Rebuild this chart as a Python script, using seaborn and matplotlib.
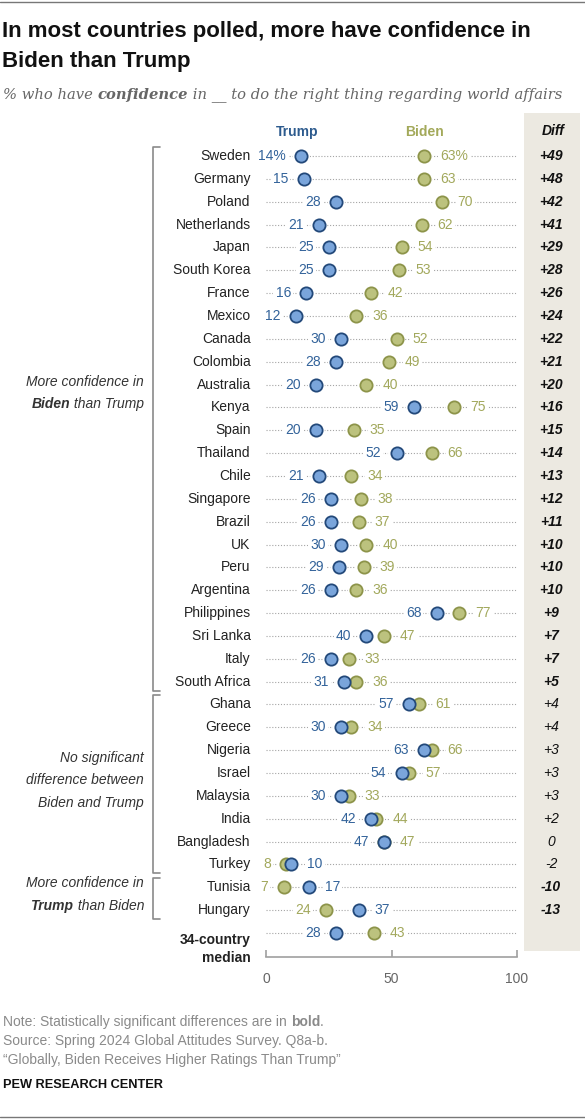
import matplotlib
matplotlib.use("Agg")
import matplotlib.pyplot as plt
import seaborn as sns
import pandas as pd

# data
countries = ["Sweden", "Germany", "Poland", "Netherlands", "Japan", "South Korea",
             "France", "Mexico", "Canada", "Colombia", "Australia", "Kenya", "Spain",
             "Thailand", "Chile", "Singapore", "Brazil", "UK", "Peru", "Argentina",
             "Philippines", "Sri Lanka", "Italy", "South Africa",
             "Ghana", "Greece", "Nigeria", "Israel", "Malaysia", "India", "Bangladesh",
             "Turkey", "Tunisia", "Hungary", "34-country\nmedian"]
trump = [14, 15, 28, 21, 25, 25, 16, 12, 30, 28, 20, 59, 20, 52, 21, 26, 26, 30, 29, 26,
         68, 40, 26, 31, 57, 30, 63, 54, 30, 42, 47, 10, 17, 37, 28]
biden = [63, 63, 70, 62, 54, 53, 42, 36, 52, 49, 40, 75, 35, 66, 34, 38, 37, 40, 39, 36,
         77, 47, 33, 36, 61, 34, 66, 57, 33, 44, 47, 8, 7, 24, 43]
diff_labels = ["+49", "+48", "+42", "+41", "+29", "+28", "+26", "+24", "+22", "+21", "+20",
               "+16", "+15", "+14", "+13", "+12", "+11", "+10", "+10", "+10", "+9", "+7",
               "+7", "+5", "+4", "+4", "+3", "+3", "+3", "+2", "0", "-2", "-10", "-13", ""]
significant = [True] * 24 + [False] * 8 + [True] * 2 + [False]

groups = [
    (0, 23, ["More confidence in", ("Biden", " than Trump")]),
    (24, 31, ["No significant", "difference between", "Biden and Trump"]),
    (32, 33, ["More confidence in", ("Trump", " than Biden")]),
]

df = pd.DataFrame({"country": countries, "Trump": trump, "Biden": biden})
df["row"] = range(len(df))

TRUMP_FILL, TRUMP_EDGE, TRUMP_TXT = "#7aa5db", "#23497a", "#33639a"
BIDEN_FILL, BIDEN_EDGE, BIDEN_TXT = "#bcc27e", "#8d944a", "#a2a85c"

sns.set_theme(style="white")
plt.rcParams["font.family"] = ["Liberation Sans", "DejaVu Sans"]

W, H = 585, 1120
fig = plt.figure(figsize=(W / 100, H / 100), dpi=100)

# overlay axes in pixel coordinates for the furniture
pax = fig.add_axes([0, 0, 1, 1])
pax.set_xlim(0, W)
pax.set_ylim(H, 0)
pax.axis("off")

# diff column background
pax.add_patch(plt.Rectangle((524, 113), 56, 838, color="#ece9e1", zorder=0, lw=0))

# chart axes: x 0..100 -> px 266..517, rows on y
top_px, bot_px = 144, 957
ax = fig.add_axes([266 / W, 1 - bot_px / H, 251 / W, (bot_px - top_px) / H])
ax.set_xlim(0, 100)
ax.set_ylim(35.05, -0.525)
ax.patch.set_alpha(0)

ax.hlines(df["row"], 0, 100, color="#a5a5a5", lw=0.8, linestyle=(0, (1, 1.6)), zorder=1)

# white halo so the dotted line breaks around each dot
for col in ["Biden", "Trump"]:
    sns.scatterplot(data=df, x=col, y="row", ax=ax, color="white", edgecolor="none",
                    s=150, zorder=2, legend=False)
sns.scatterplot(data=df, x="Biden", y="row", ax=ax, color=BIDEN_FILL, edgecolor=BIDEN_EDGE,
                linewidth=1.3, s=78, zorder=4, legend=False)
sns.scatterplot(data=df, x="Trump", y="row", ax=ax, color=TRUMP_FILL, edgecolor=TRUMP_EDGE,
                linewidth=1.3, s=78, zorder=5, legend=False)

box = dict(facecolor="white", edgecolor="none", pad=1.5)
for i, (t, b) in enumerate(zip(trump, biden)):
    ts = f"{t}%" if i == 0 else str(t)
    bs = f"{b}%" if i == 0 else str(b)
    if b >= t:
        t_off, t_ha, b_off, b_ha = -11, "right", 11.5, "left"
    else:
        t_off, t_ha, b_off, b_ha = 11.5, "left", -11, "right"
    ax.annotate(ts, (t, i), xytext=(t_off, 0), textcoords="offset points", ha=t_ha,
                va="center", color=TRUMP_TXT, fontsize=10, bbox=box, zorder=3)
    ax.annotate(bs, (b, i), xytext=(b_off, 0), textcoords="offset points", ha=b_ha,
                va="center", color=BIDEN_TXT, fontsize=10, bbox=box, zorder=3)
    # country names
    ax.annotate(countries[i], (0, i), xytext=(-11, 0), textcoords="offset points",
                ha="right", va="center" if i < 34 else "top", color="#222222",
                fontsize=10, fontweight="bold" if i == 34 else "normal",
                linespacing=1.35, annotation_clip=False)
    if i == 34:
        continue
    # diff column
    ax.annotate(diff_labels[i], (1, i), xycoords=("axes fraction", "data"),
                xytext=(551 - 517, 0), textcoords="offset pixels", ha="center",
                va="center", fontsize=10, style="italic", color="#111111",
                fontweight="bold" if significant[i] else "normal", annotation_clip=False)

# x axis
sns.despine(ax=ax, left=True, top=True, right=True)
ax.spines["bottom"].set_color("#a0a0a0")
ax.spines["bottom"].set_linewidth(1.2)
ax.set_xticks([0, 50, 100])
ax.set_yticks([])
ax.tick_params(axis="x", direction="in", length=5, width=1.2, color="#a0a0a0",
               labelsize=10, labelcolor="#666666", pad=11, bottom=True)
ax.set_xlabel("")
ax.set_ylabel("")

# headers
pax.text(297, 132, "Trump", ha="center", va="center", fontsize=10, fontweight="bold",
         color="#2d5b8e")
pax.text(424, 132, "Biden", ha="center", va="center", fontsize=10, fontweight="bold",
         color="#a3a95a")
pax.text(553, 131, "Diff", ha="center", va="center", fontsize=10, fontweight="bold",
         style="italic", color="#111111")

# brackets and group labels
row_px = lambda r: top_px + (r + 0.525) / 35.575 * (bot_px - top_px)
for start, end, lines in groups:
    y0, y1 = row_px(start) - 9, row_px(end) + 9
    pax.plot([160, 153, 153, 160], [y0, y0, y1, y1], color="#8a8a8a", lw=1.2)
    n = len(lines)
    yc = (y0 + y1) / 2 - (26 if start == 0 else 4)
    for k, line in enumerate(lines):
        yy = yc + (k - (n - 1) / 2) * 22.5
        if isinstance(line, tuple):
            tail = pax.text(144, yy, line[1], ha="right", va="center", fontsize=10,
                            style="italic", color="#333333")
            pax.annotate(line[0], xy=(0, 0.5), xycoords=tail, ha="right", va="center",
                         fontsize=10, style="italic", fontweight="bold", color="#333333")
        else:
            pax.text(144, yy, line, ha="right", va="center", fontsize=10,
                     style="italic", color="#333333")

# title and subtitle
title_lines = ["In most countries polled, more have confidence in", "Biden than Trump"]
for k, line in enumerate(title_lines):
    pax.text(2, 32 + 29 * k, line, ha="left", va="center", fontsize=16,
             fontweight="bold", color="#111111")
sub_parts = [("% who have ", "normal"), ("confidence", "bold"),
             (" in __ to do the right thing regarding world affairs", "normal")]
prev = None
for txt, wt in sub_parts:
    kw = dict(fontsize=10.6, style="italic", fontweight=wt, color="#666666",
              family="DejaVu Serif", va="bottom", ha="left")
    if prev is None:
        prev = pax.text(3, 102, txt, **kw)
    else:
        prev = pax.annotate(txt, xy=(1, 0), xycoords=prev, **kw)

# notes
note_kw = dict(fontsize=10, color="#8a8a8a", va="bottom", ha="left")
n1 = pax.text(3, 1029, "Note: Statistically significant differences are in ", **note_kw)
n2 = pax.annotate("bold", xy=(1, 0), xycoords=n1, fontweight="bold", **note_kw)
pax.annotate(".", xy=(1, 0), xycoords=n2, **note_kw)
pax.text(3, 1048, "Source: Spring 2024 Global Attitudes Survey. Q8a-b.", **note_kw)
pax.text(3, 1067, "\u201cGlobally, Biden Receives Higher Ratings Than Trump\u201d", **note_kw)
pax.text(3, 1085, "PEW RESEARCH CENTER", fontsize=9.2, fontweight="bold", color="#111111",
         va="center", ha="left")

# thin rules at top and bottom
pax.plot([0, W], [2, 2], color="#777777", lw=1)
pax.plot([0, W], [1117, 1117], color="#777777", lw=1)

fig.savefig("out.png", dpi=100)
